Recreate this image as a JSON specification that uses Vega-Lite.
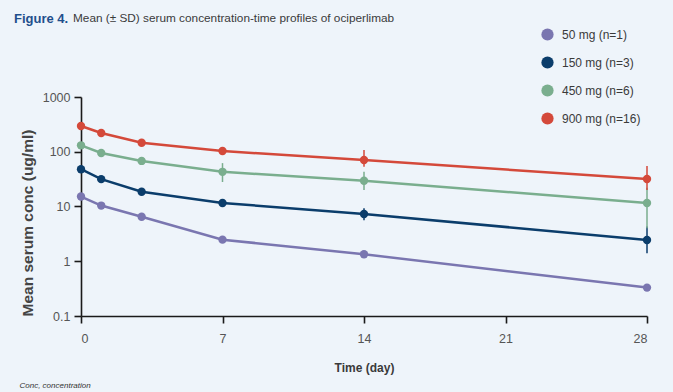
{
  "$schema": "https://vega.github.io/schema/vega-lite/v6.json",
  "width": 566,
  "height": 219,
  "autosize": "none",
  "padding": {"left": 81, "top": 97, "right": 26, "bottom": 76},
  "background": "#eef4fa",
  "title": {
    "text": "Figure 4.",
    "subtitle": "\u200b\u00a0\u00a0\u00a0\u00a0\u00a0\u00a0\u00a0\u00a0\u00a0\u00a0\u00a0\u00a0\u00a0\u00a0\u00a0\u00a0\u00a0\u00a0Mean (± SD) serum concentration-time profiles of ociperlimab",
    "anchor": "start",
    "frame": "group",
    "dx": -67,
    "offset": 2,
    "font": "Liberation Sans, Arial, sans-serif",
    "fontSize": 13,
    "fontWeight": "bold",
    "color": "#1f4f8c",
    "subtitleFont": "Liberation Sans, Arial, sans-serif",
    "subtitleFontSize": 11.8,
    "subtitleColor": "#3a3a3a",
    "subtitlePadding": -13
  },
  "data": {
    "values": [
      {"dose": "50 mg (n=1)", "day": 0, "mean": 15.2},
      {"dose": "50 mg (n=1)", "day": 1, "mean": 10.4},
      {"dose": "50 mg (n=1)", "day": 3, "mean": 6.5},
      {"dose": "50 mg (n=1)", "day": 7, "mean": 2.48},
      {"dose": "50 mg (n=1)", "day": 14, "mean": 1.34},
      {"dose": "50 mg (n=1)", "day": 28, "mean": 0.33},
      {"dose": "150 mg (n=3)", "day": 0, "mean": 48, "lo": 44, "hi": 52},
      {"dose": "150 mg (n=3)", "day": 1, "mean": 31.6, "lo": 29, "hi": 34},
      {"dose": "150 mg (n=3)", "day": 3, "mean": 18.6, "lo": 17, "hi": 20.5},
      {"dose": "150 mg (n=3)", "day": 7, "mean": 11.6, "lo": 10.2, "hi": 13.2},
      {"dose": "150 mg (n=3)", "day": 14, "mean": 7.3, "lo": 5.6, "hi": 9.3},
      {"dose": "150 mg (n=3)", "day": 28, "mean": 2.45, "lo": 1.4, "hi": 4.3},
      {"dose": "450 mg (n=6)", "day": 0, "mean": 131, "lo": 112, "hi": 150},
      {"dose": "450 mg (n=6)", "day": 1, "mean": 95, "lo": 84, "hi": 107},
      {"dose": "450 mg (n=6)", "day": 3, "mean": 68, "lo": 58, "hi": 79},
      {"dose": "450 mg (n=6)", "day": 7, "mean": 43, "lo": 28, "hi": 62},
      {"dose": "450 mg (n=6)", "day": 14, "mean": 29.5, "lo": 20, "hi": 43},
      {"dose": "450 mg (n=6)", "day": 28, "mean": 11.6, "lo": 4, "hi": 22},
      {"dose": "900 mg (n=16)", "day": 0, "mean": 296, "lo": 265, "hi": 330},
      {"dose": "900 mg (n=16)", "day": 1, "mean": 220, "lo": 200, "hi": 242},
      {"dose": "900 mg (n=16)", "day": 3, "mean": 146, "lo": 130, "hi": 163},
      {"dose": "900 mg (n=16)", "day": 7, "mean": 103, "lo": 92, "hi": 116},
      {"dose": "900 mg (n=16)", "day": 14, "mean": 70.8, "lo": 53, "hi": 108},
      {"dose": "900 mg (n=16)", "day": 28, "mean": 31.8, "lo": 20, "hi": 55}
    ]
  },
  "encoding": {
    "color": {
      "field": "dose",
      "type": "nominal",
      "sort": ["50 mg (n=1)", "150 mg (n=3)", "450 mg (n=6)", "900 mg (n=16)"],
      "scale": {
        "domain": ["50 mg (n=1)", "150 mg (n=3)", "450 mg (n=6)", "900 mg (n=16)"],
        "range": ["#7a76b0", "#0b3d6b", "#7aae8e", "#d4493a"]
      },
      "legend": {
        "title": null,
        "orient": "none",
        "legendX": 460,
        "legendY": -69,
        "symbolType": "circle",
        "symbolSize": 150,
        "symbolStrokeWidth": 0,
        "symbolOpacity": 1,
        "rowPadding": 15,
        "labelOffset": 8,
        "labelFont": "Liberation Sans, Arial, sans-serif",
        "labelFontSize": 12,
        "labelColor": "#3a3a3a"
      }
    }
  },
  "layer": [
    {
      "transform": [{"filter": "isValid(datum.lo)"}],
      "mark": {"type": "rule", "strokeWidth": 1.5},
      "encoding": {
        "x": {
          "field": "day",
          "type": "quantitative",
          "axis": {
            "orient": "bottom",
            "domain": false,
            "ticks": false,
            "labels": false,
            "grid": false,
            "title": "Conc, concentration",
            "titleFont": "Liberation Sans, Arial, sans-serif",
            "titleFontStyle": "italic",
            "titleFontWeight": "normal",
            "titleFontSize": 8,
            "titleColor": "#333333",
            "titleAnchor": "start",
            "titleAlign": "left",
            "titleX": -62,
            "titleY": 71,
            "titleBaseline": "alphabetic"
          }
        },
        "y": {"field": "lo", "type": "quantitative"},
        "y2": {"field": "hi"}
      }
    },
    {
      "mark": {"type": "line", "strokeWidth": 2.5, "point": {"filled": true, "size": 70, "opacity": 1}},
      "encoding": {
        "x": {
          "field": "day",
          "type": "quantitative",
          "scale": {"domain": [0, 28], "nice": false},
          "axis": {
            "orient": "bottom",
            "values": [0, 7, 14, 21, 28],
            "grid": false,
            "domainColor": "#1a1a1a",
            "domainWidth": 1.6,
            "tickColor": "#1a1a1a",
            "tickWidth": 1.6,
            "tickSize": 7,
            "labelFont": "Liberation Sans, Arial, sans-serif",
            "labelFontSize": 12.5,
            "labelColor": "#555555",
            "labelPadding": 9,
            "title": "Time (day)",
            "titleFont": "Liberation Sans, Arial, sans-serif",
            "titleFontSize": 12,
            "titleFontWeight": "bold",
            "titleColor": "#3a3a3a",
            "titlePadding": 18
          }
        },
        "y": {
          "field": "mean",
          "type": "quantitative",
          "scale": {"type": "log", "domain": [0.1, 1000], "nice": false},
          "axis": {
            "values": [0.1, 1, 10, 100, 1000],
            "format": "~g",
            "grid": false,
            "domainColor": "#1a1a1a",
            "domainWidth": 1.6,
            "tickColor": "#1a1a1a",
            "tickWidth": 1.6,
            "tickSize": 7,
            "labelFont": "Liberation Sans, Arial, sans-serif",
            "labelFontSize": 12.5,
            "labelColor": "#555555",
            "labelPadding": 4,
            "title": "Mean serum conc (ug/ml)",
            "titleFont": "Liberation Sans, Arial, sans-serif",
            "titleFontSize": 15.5,
            "titleFontWeight": "bold",
            "titleColor": "#444444",
            "titleAnchor": "start",
            "titlePadding": 7
          }
        }
      }
    }
  ],
  "resolve": {"axis": {"x": "independent"}},
  "config": {"view": {"stroke": null}}
}
